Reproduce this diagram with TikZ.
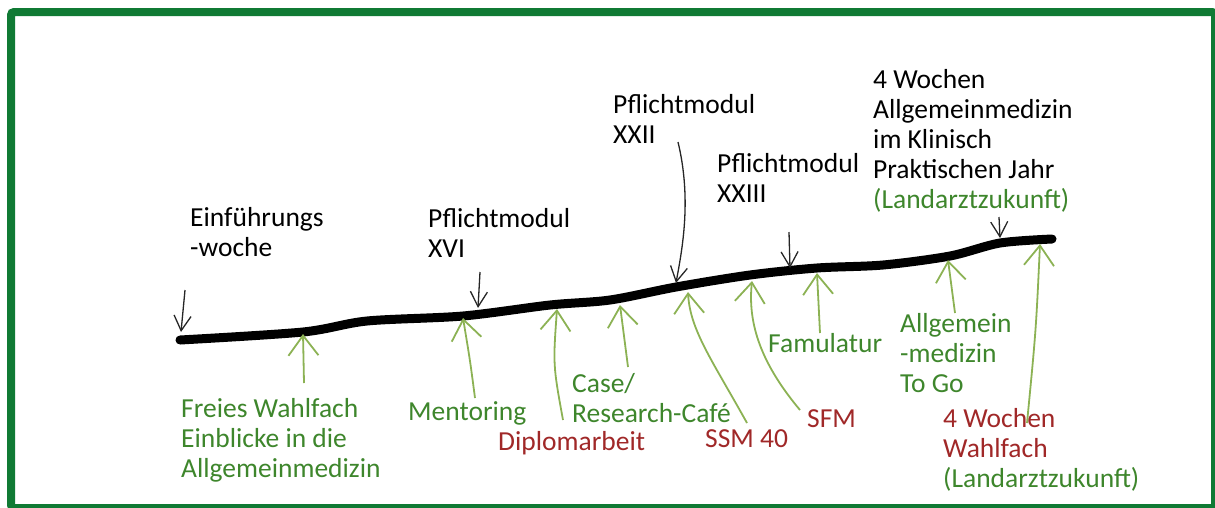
\documentclass[tikz,border=0pt]{standalone}
\usepackage{fontspec}
\setmainfont{Carlito}
\usetikzlibrary{arrows.meta}
\definecolor{framegreen}{RGB}{16,122,52}
\definecolor{textgreen}{RGB}{62,134,44}
\definecolor{arrowgreen}{RGB}{140,178,84}
\definecolor{textred}{RGB}{160,40,40}
\tikzstyle{label} = [anchor=base west, inner sep=0pt, align=left,
    font=\fontsize{27.5}{30}\selectfont]
\tikzstyle{greenlabel} = [label, text=textgreen]
\tikzstyle{redlabel} = [label, text=textred]
\tikzstyle{blackarrow} = [line width=1.3pt, black!85,
    -{Straight Barb[length=15pt,width=17pt]}]
\tikzstyle{greenarrow} = [line width=1.8pt, arrowgreen,
    -{Straight Barb[length=20pt,width=30pt]}]

\begin{document}
\begin{tikzpicture}[x=1pt, y=-1pt]
\useasboundingbox (0,0) rectangle (1215,507);
\draw [framegreen, line width=8pt, rounded corners=3pt] (11,12) rectangle (1215,508);

% the time line
\draw [line width=9pt, line cap=round] plot [smooth, tension=0.5] coordinates {
    (180,340) (303,332) (367,321) (463,316) (550,305) (610,300) (676,287)
    (750,275) (817,268) (883,265) (950,256) (1000,243) (1052,239)};

% points on the line
\coordinate (einfpt) at (181,332);
\coordinate (xvipt) at (478,308);
\coordinate (xxiipt) at (676,283);
\coordinate (xxiiipt) at (790,268);
\coordinate (pjpt) at (1000,238);
\coordinate (wahlpt) at (303,334);
\coordinate (mentpt) at (463,318);
\coordinate (diplpt) at (557,309);
\coordinate (casept) at (620,305);
\coordinate (ssmpt) at (688,292);
\coordinate (sfmpt) at (752,281);
\coordinate (famupt) at (817,273);
\coordinate (togopt) at (948,260);
\coordinate (wfpt) at (1040,244);

% above the line (placed at the base of the last line)
\node (einf) [label] at (190,256) {Einführungs\\-woche};
\node (xvi) [label] at (428,257) {Pflichtmodul\\XVI};
\node (xxii) [label] at (613,143) {Pflichtmodul\\XXII};
\node (xxiii) [label] at (717,202) {Pflichtmodul\\XXIII};
\node (pj) [label] at (873,208) {4 Wochen\\Allgemeinmedizin\\im Klinisch\\Praktischen Jahr\\{\color{textgreen}(Landarztzukunft)}};

\coordinate (einftail) at (185,290);
\coordinate (xvitail) at (480,272);
\coordinate (xxiitail) at (678,142);
\coordinate (xxiiitail) at (789,232);
\coordinate (pjtail) at (999,217);

\draw [blackarrow] (einftail) -- (einfpt);
\draw [blackarrow] (xvitail) -- (xvipt);
\draw [blackarrow] (xxiitail) .. controls (692,200) and (682,250) .. (xxiipt);
\draw [blackarrow] (xxiiitail) -- (xxiiipt);
\draw [blackarrow] (pjtail) -- (pjpt);

% below the line
\node (wahl) [greenlabel] at (181,477) {Freies Wahlfach\\Einblicke in die\\Allgemeinmedizin};
\node (ment) [greenlabel] at (408,420) {Mentoring};
\node (case) [greenlabel] at (572,422) {Case/\\Research-Café};
\node (dipl) [redlabel] at (498,450) {Diplomarbeit};
\node (ssm) [redlabel] at (705,447) {SSM 40};
\node (sfm) [redlabel] at (807,427) {SFM};
\node (famu) [greenlabel] at (768,352) {Famulatur};
\node (togo) [greenlabel] at (900,392) {Allgemein\\-medizin\\To Go};
\node (wf) [redlabel] at (943,487) {4 Wochen\\Wahlfach\\{\color{textgreen}(Landarztzukunft)}};

\coordinate (wahltail) at (304,383);
\coordinate (menttail) at (475,398);
\coordinate (dipltail) at (563,420);
\coordinate (casetail) at (628,367);
\coordinate (ssmtail) at (747,423);
\coordinate (sfmtail) at (800,410);
\coordinate (famutail) at (820,333);
\coordinate (togotail) at (955,313);
\coordinate (wftail) at (1027,423);

\draw [greenarrow] (wahltail) -- (wahlpt);
\draw [greenarrow] (menttail) .. controls (470,360) .. (mentpt);
\draw [greenarrow] (dipltail) .. controls (553,365) .. (diplpt);
\draw [greenarrow] (casetail) -- (casept);
\draw [greenarrow] (ssmtail) .. controls (712,360) and (690,330) .. (ssmpt);
\draw [greenarrow] (sfmtail) .. controls (758,360) and (748,320) .. (sfmpt);
\draw [greenarrow] (famutail) -- (famupt);
\draw [greenarrow] (togotail) -- (togopt);
\draw [greenarrow] (wftail) .. controls (1036,330) .. (wfpt);
\end{tikzpicture}
\end{document}
